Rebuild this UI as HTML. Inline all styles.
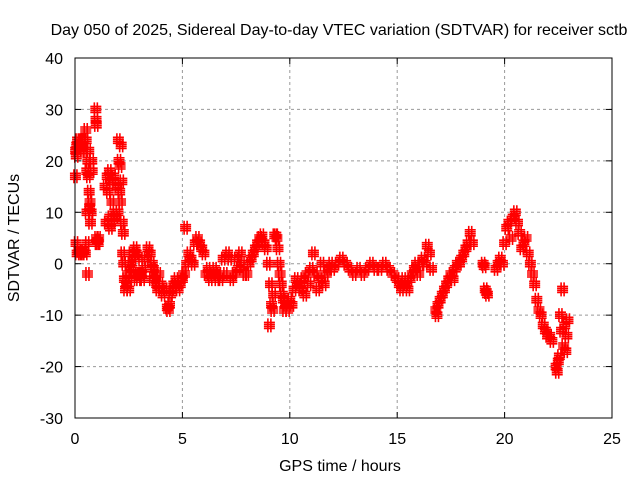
<!DOCTYPE html>
<html><head><meta charset="utf-8"><style>
body{margin:0;background:#fff;}
svg text{font-family:"Liberation Sans",sans-serif;font-size:16px;fill:#000;}
</style></head><body>
<svg width="640" height="480" xmlns="http://www.w3.org/2000/svg">
<text x="339" y="35" text-anchor="middle">Day 050 of 2025, Sidereal Day-to-day VTEC variation (SDTVAR) for receiver sctb</text>
<text x="340" y="471" text-anchor="middle">GPS time / hours</text>
<text transform="translate(19,238) rotate(-90)" text-anchor="middle">SDTVAR / TECUs</text>
<g id="grid"></g>
<g id="ticks"></g>
<g id="marks"></g>
<rect x="75" y="58" width="537" height="360" fill="none" stroke="#000" stroke-width="1"/>
</svg>
<script>
const xTicks=[0,5,10,15,20,25];
const yTicks=[-30,-20,-10,0,10,20,30,40];
const hours=[
0.02,0.03,0.05,0.06,0.08,0.10,0.12,0.15,0.18,0.20,
0.22,0.25,0.28,0.30,0.33,0.35,0.38,0.40,0.42,0.45,
0.48,0.50,0.52,0.55,0.56,0.57,0.58,0.60,0.62,0.64,
0.66,0.68,0.70,0.72,0.75,0.78,0.80,0.97,0.98,0.99,
1.00,1.02,1.05,1.08,1.10,
1.40,1.45,1.50,1.55,1.60,1.62,1.65,1.70,1.72,1.75,
1.80,1.85,1.90,1.95,2.00,2.02,2.05,2.08,2.10,2.12,
2.15,2.18,2.20,2.22,2.25,2.27,
2.30,2.35,2.40,2.45,2.50,2.55,2.60,2.65,2.70,2.75,
2.80,2.85,2.90,2.95,3.00,3.05,3.10,3.15,3.20,3.30,
3.40,3.50,3.55,3.60,3.65,3.70,3.75,3.80,3.85,3.90,
4.00,4.10,4.20,4.30,4.35,4.40,4.45,4.50,4.60,4.70,
4.80,4.90,5.00,5.05,5.10,5.15,
5.2,5.3,5.4,5.5,5.6,5.7,5.8,5.9,6.0,6.1,
6.2,6.3,6.4,6.5,6.6,6.7,6.8,6.9,7.0,7.1,
7.2,7.3,7.4,7.5,7.6,7.7,7.8,7.9,8.0,8.1,
8.2,8.3,8.4,8.5,8.6,8.7,8.8,8.9,
9.0,9.05,9.1,9.15,9.2,9.25,9.3,9.35,9.4,9.45,
9.5,9.55,9.6,9.65,9.7,9.75,9.8,9.9,10.0,10.1,
10.2,10.3,10.4,10.5,10.6,10.7,10.8,10.9,11.0,11.1,
11.2,11.3,11.4,11.5,11.6,11.7,11.8,11.9,
12.0,12.2,12.4,12.6,12.8,13.0,13.2,13.4,13.6,13.8,
14.0,14.2,14.4,14.6,14.8,15.0,15.1,15.2,15.3,15.4,
15.5,15.6,15.7,15.8,15.9,16.0,16.1,16.2,16.3,16.4,
16.5,16.6,
16.8,16.85,16.9,17.0,17.1,17.2,17.3,17.4,17.5,17.6,
17.7,17.8,17.9,18.0,18.1,18.2,18.3,18.4,18.5,
19.0,19.05,19.1,19.15,19.2,
19.6,19.7,19.8,19.9,20.0,20.1,20.2,20.3,20.4,20.5,
20.6,20.7,20.8,20.9,21.0,21.1,21.2,21.3,21.4,21.5,
21.6,21.7,21.8,21.9,22.0,22.1,22.2,22.4,22.45,22.5,
22.55,22.6,22.65,22.7,22.75,22.8,22.85,22.9,22.95];
const vtec=[
17,22,4,21,23,2,24,23,2.5,22,
24,2,23,24,2,22,23,2.5,24,22,
2,26,24,18,10,4,-2,20,17,22,
14,11,12,8,10,20,18,30,28,27,
5,4,4.5,4,5,
15,8,17,14,18,9,7,16,12,8,
17,10,9,15,10,24,20,14,19,12,
23,16,8,2,6,0,
-3,-5,-4,-2,-5,0,2,-1,-3,1,
3,2,-2,-3,-2,1,-2,-3,-1,1,
3,2,-3,0,-1,-3,-2,-4,-5,-2,
-4,-6,-5,-8.5,-9,-8,-6,-5,-4,-3,
-5,-4,-3,-2,-2,7,
0,2,1,0,4,5,4,3,2,-2,
-1,-3,-2,-1,-3,-2,-3,1,-2,2,
1,-3,-2,1,-1,2,0,-2,-2,0,
1,2,3,4,5,5.5,4,3,
0,-12,-4,-8,-9,-6,5.5,5.5,5,3,
0,-2,-4,-6,-7,-9,-8,-9,-7,-8,
-5,-3,-4,-5,-3,-6,-2,-4,-1,2,
-2,-5,-3,0,-4,-2,-1,0,
-1,0,1,0,-1,-2,-1,-2,-1,0,
-1,-1,0,-1,-2,-3,-4,-5,-3,-4,
-5,-3,-2,-1,0,-2,0,1,0,3.5,
2,-1,
-9,-10,-8,-7,-6,-5,-4,-3,-2,-3,
-1,0,0,1,2,3,4,6,4,
0,-0.5,-5,-5.5,-6,
-1,0,1,0,4,7,8,5,9,10,
8,6,3,4,5,2,0,-2,-4,-7,
-9,-10,-12,-13,-14,-14,-15,-20,-21,-19,
-18,-10,-13,-5,-16,-12,-17,-14,-11];
const W=537,H=360,X0=75,Y0=58;
const xs=v=>X0+v/25*W, ys=v=>Y0+(40-v)/70*H;
const NS='http://www.w3.org/2000/svg';
const grid=document.getElementById('grid'),ticks=document.getElementById('ticks'),marks=document.getElementById('marks');
function mk(t,a,p){const e=document.createElementNS(NS,t);for(const k in a)e.setAttribute(k,a[k]);p.appendChild(e);return e;}
xTicks.forEach(t=>{const x=xs(t);
 if(t>0&&t<25){const g=mk('line',{x1:x,x2:x,y1:Y0,y2:Y0+H,stroke:'#999','stroke-dasharray':'3,3'},grid);
 
 }
 mk('line',{x1:x,x2:x,y1:Y0+H,y2:Y0+H-6,stroke:'#000'},ticks);mk('line',{x1:x,x2:x,y1:Y0,y2:Y0+6,stroke:'#000'},ticks);
 const l=mk('text',{x:x,y:Y0+H+26,'text-anchor':'middle'},ticks);l.textContent=t;
 
 });
yTicks.forEach(t=>{const y=ys(t);
 if(t>-30&&t<40){const g=mk('line',{x1:X0,x2:X0+W,y1:y,y2:y,stroke:'#999','stroke-dasharray':'3,3'},grid);
 
 }
 mk('line',{x1:X0,x2:X0+6,y1:y,y2:y,stroke:'#000'},ticks);mk('line',{x1:X0+W,x2:X0+W-6,y1:y,y2:y,stroke:'#000'},ticks);
 const l=mk('text',{x:X0-12,y:y+6,'text-anchor':'end'},ticks);l.textContent=t;
 
 });
let d='';
for(let i=0;i<Math.min(hours.length,vtec.length);i++){
 const x=xs(hours[i]),y=ys(vtec[i]);
 for(const oy of [-3,-1,1,3]) for(const ox of [-1.5,1.5]){
  const xx=x+ox,yy=y+oy;d+=`M${xx-4},${yy}h8M${xx},${yy-4}v8`;}
}
const p=mk('path',{d:d,stroke:'#f00','stroke-width':1.6,fill:'none'},marks);


</script>
</body></html>
